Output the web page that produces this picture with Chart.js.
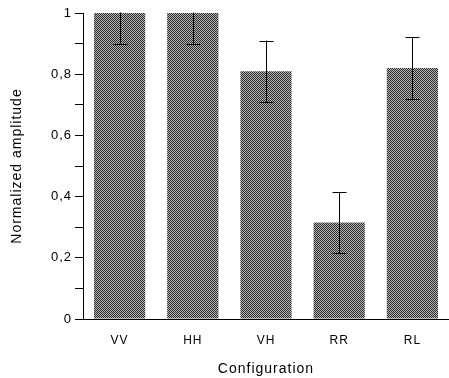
<!DOCTYPE html>
<html>
<head>
<meta charset="utf-8">
<script src="https://cdn.jsdelivr.net/npm/chart.js@4/dist/chart.umd.min.js"></script>
<style>
  html, body { margin: 0; padding: 0; background: #fff; }
  #wrap { width: 449px; height: 378px; }
</style>
</head>
<body>
<div id="wrap"><canvas id="myChart" width="449" height="378"></canvas></div>
<script>
// datos
const categorias = ['VV', 'HH', 'VH', 'RR', 'RL'];
const amplitud = [1.0, 1.0, 0.81, 0.315, 0.82];
const errores = [0.1, 0.1, 0.1, 0.1, 0.1];
const ticksY = [0, 0.2, 0.4, 0.6, 0.8, 1];

// textura gris tramada de las barras
function trama() {
    let c = document.createElement('canvas');
    c.width = 2; c.height = 2;
    let g = c.getContext('2d');
    g.fillStyle = '#b4b4b4';
    g.fillRect(0, 0, 2, 2);
    g.fillStyle = '#2e2e2e';
    g.fillRect(0, 0, 1, 1);
    g.fillRect(1, 1, 1, 1);
    return g.createPattern(c, 'repeat');
}

// espaciado de letras como en el original
const espaciado = {
    id: 'espaciado',
    beforeLayout(chart) { chart.ctx.letterSpacing = '1px'; },
    beforeDraw(chart) { chart.ctx.letterSpacing = '1px'; }
};

// plugin para las barras de error
const barrasError = {
    id: 'barrasError',
    afterDatasetsDraw(chart) {
        const ctx = chart.ctx;
        const meta = chart.getDatasetMeta(0);
        const y = chart.scales.y;
        const area = chart.chartArea;
        ctx.save();
        ctx.beginPath();
        ctx.rect(area.left, area.top - 0.5, area.right - area.left, area.bottom - area.top + 1);
        ctx.clip();
        ctx.strokeStyle = '#000';
        ctx.lineWidth = 1;
        meta.data.forEach((bar, i) => {
            let x = Math.round(bar.x) + 0.5;
            let alto = y.getPixelForValue(amplitud[i] + errores[i]);
            let bajo = y.getPixelForValue(amplitud[i] - errores[i]);
            ctx.beginPath();
            ctx.moveTo(x, alto);
            ctx.lineTo(x, bajo);
            ctx.moveTo(x - 7, Math.round(alto) + 0.5);
            ctx.lineTo(x + 7, Math.round(alto) + 0.5);
            ctx.moveTo(x - 7, Math.round(bajo) + 0.5);
            ctx.lineTo(x + 7, Math.round(bajo) + 0.5);
            ctx.stroke();
        });
        ctx.restore();
    }
};

Chart.defaults.font.family = '"Liberation Sans", Arial, Helvetica, sans-serif';
Chart.defaults.color = '#000';

let grafico = new Chart(document.getElementById('myChart'), {
    type: 'bar',
    data: {
        labels: categorias,
        datasets: [{
            data: amplitud,
            backgroundColor: trama(),
            borderColor: '#444',
            borderWidth: 0,
            barPercentage: 0.7,
            categoryPercentage: 1.0
        }]
    },
    options: {
        responsive: false,
        animation: false,
        layout: { padding: { top: 13, right: -4, left: 0, bottom: 0 } },
        plugins: {
            legend: { display: false },
            tooltip: { enabled: false }
        },
        scales: {
            x: {
                grid: { display: false, drawTicks: false },
                border: { display: true, color: '#000', width: 1 },
                ticks: { font: { size: 12 }, padding: 14 },
                title: { display: true, text: 'Configuration', font: { size: 14 }, padding: { top: 9, bottom: 0 } },
                afterFit(scale) { scale.height = 59; }
            },
            y: {
                min: 0,
                max: 1,
                grid: { drawOnChartArea: false, tickLength: 8, color: '#000' },
                border: { display: true, color: '#000', width: 1 },
                ticks: {
                    stepSize: 0.1,
                    autoSkip: false,
                    padding: 3,
                    font: { size: 13 },
                    callback: function (v) {
                        let r = Math.round(v * 10) / 10;
                        let hit = ticksY.find(t => Math.abs(t - r) < 1e-6);
                        if (hit === undefined) return '';
                        return String(hit).replace('.', ',');
                    }
                },
                title: { display: true, text: 'Normalized amplitude', font: { size: 14 }, padding: { top: 9, bottom: 10 } },
                afterFit(scale) { scale.width = 83; }
            }
        }
    },
    plugins: [espaciado, barrasError]
});
</script>
</body>
</html>
